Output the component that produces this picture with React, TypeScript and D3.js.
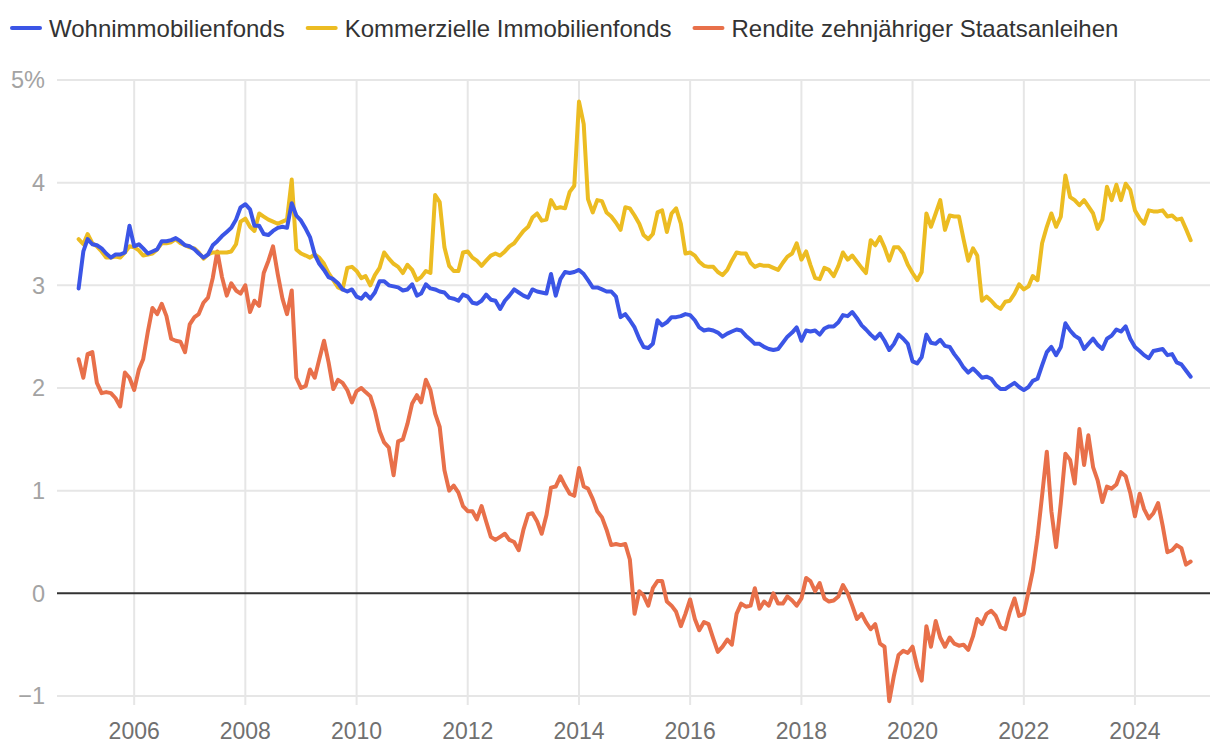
import * as d3 from 'd3';
import { useEffect, useRef } from 'react';

// monthly values, Jan 2005 .. Jan 2025 (percent)
const startMonth = new Date(2005, 0, 1);

const seriesNames = ['Wohnimmobilienfonds', 'Kommerzielle Immobilienfonds', 'Rendite zehnjähriger Staatsanleihen'];
const seriesColors = ['#3b55e6', '#ecbc22', '#e8704a'];

const wohnimmobilienfonds = [
    2.97, 3.33, 3.45, 3.40, 3.39, 3.36, 3.31, 3.27, 3.30, 3.30, 3.32, 3.58,
    3.38, 3.40, 3.36, 3.31, 3.33, 3.35, 3.43, 3.43, 3.44, 3.46, 3.43, 3.39,
    3.38, 3.35, 3.31, 3.27, 3.30, 3.39, 3.43, 3.48, 3.52, 3.56, 3.64, 3.76,
    3.79, 3.74, 3.58, 3.58, 3.50, 3.49, 3.53, 3.56, 3.57, 3.56, 3.80, 3.68,
    3.63, 3.55, 3.47, 3.30, 3.21, 3.15, 3.08, 3.06, 3.02, 2.96, 2.94, 2.96,
    2.89, 2.87, 2.92, 2.87, 2.93, 3.04, 3.04, 3.00, 2.99, 2.98, 2.95, 2.96,
    3.01, 2.90, 2.92, 3.01, 2.97, 2.96, 2.94, 2.93, 2.88, 2.87, 2.85, 2.91,
    2.89, 2.83, 2.82, 2.85, 2.91, 2.86, 2.85, 2.77, 2.85, 2.90, 2.96, 2.93,
    2.90, 2.88, 2.96, 2.94, 2.93, 2.92, 3.11, 2.90, 3.06, 3.13, 3.12, 3.13,
    3.15, 3.11, 3.05, 2.98, 2.98, 2.96, 2.94, 2.94, 2.89, 2.69, 2.72, 2.66,
    2.59, 2.48, 2.40, 2.39, 2.43, 2.66, 2.61, 2.64, 2.69, 2.69, 2.70, 2.72,
    2.71, 2.66, 2.59, 2.56, 2.57, 2.56, 2.54, 2.50, 2.53, 2.55, 2.57, 2.56,
    2.51, 2.47, 2.43, 2.43, 2.40, 2.38, 2.37, 2.38, 2.44, 2.50, 2.54, 2.59,
    2.46, 2.56, 2.55, 2.56, 2.52, 2.58, 2.60, 2.60, 2.64, 2.71, 2.70, 2.74,
    2.68, 2.61, 2.57, 2.52, 2.48, 2.53, 2.46, 2.37, 2.43, 2.52, 2.48, 2.43,
    2.26, 2.24, 2.30, 2.52, 2.44, 2.43, 2.47, 2.41, 2.40, 2.33, 2.27, 2.20,
    2.15, 2.19, 2.15, 2.10, 2.11, 2.09, 2.03, 1.99, 1.99, 2.02, 2.05, 2.01,
    1.98, 2.01, 2.07, 2.09, 2.22, 2.35, 2.40, 2.32, 2.40, 2.63, 2.56, 2.51,
    2.48, 2.38, 2.43, 2.48, 2.42, 2.38, 2.48, 2.51, 2.57, 2.55, 2.60, 2.48,
    2.40, 2.36, 2.32, 2.29, 2.36, 2.37, 2.38, 2.32, 2.33, 2.25, 2.23, 2.17,
    2.11
];

const kommerzielleImmobilienfonds = [
    3.45, 3.40, 3.50, 3.41, 3.38, 3.33, 3.27, 3.27, 3.28, 3.27, 3.32, 3.38,
    3.37, 3.34, 3.29, 3.30, 3.31, 3.35, 3.41, 3.41, 3.42, 3.45, 3.41, 3.39,
    3.37, 3.36, 3.32, 3.26, 3.30, 3.32, 3.32, 3.32, 3.32, 3.33, 3.40, 3.62,
    3.65, 3.57, 3.53, 3.70, 3.67, 3.64, 3.62, 3.60, 3.62, 3.64, 4.03, 3.35,
    3.31, 3.29, 3.27, 3.30, 3.27, 3.21, 3.12, 3.05, 2.98, 2.96, 3.17, 3.18,
    3.14, 3.07, 3.09, 3.00, 3.10, 3.17, 3.32, 3.26, 3.21, 3.18, 3.12, 3.20,
    3.15, 3.05, 3.08, 3.14, 3.12, 3.88, 3.81, 3.37, 3.19, 3.14, 3.14, 3.32,
    3.33, 3.27, 3.24, 3.19, 3.24, 3.29, 3.31, 3.29, 3.33, 3.38, 3.41, 3.47,
    3.53, 3.57, 3.66, 3.70, 3.63, 3.64, 3.83, 3.75, 3.76, 3.75, 3.91, 3.97,
    4.79, 4.57, 3.84, 3.71, 3.83, 3.82, 3.71, 3.67, 3.61, 3.54, 3.76, 3.75,
    3.68, 3.60, 3.49, 3.45, 3.50, 3.71, 3.73, 3.52, 3.70, 3.75, 3.60, 3.31,
    3.32, 3.29, 3.23, 3.19, 3.18, 3.18, 3.13, 3.10, 3.15, 3.24, 3.32, 3.31,
    3.31, 3.22, 3.18, 3.20, 3.19, 3.19, 3.17, 3.15, 3.22, 3.28, 3.31, 3.41,
    3.25, 3.33, 3.20, 3.07, 3.06, 3.17, 3.15, 3.09, 3.19, 3.32, 3.25, 3.29,
    3.23, 3.17, 3.12, 3.44, 3.39, 3.47, 3.37, 3.24, 3.37, 3.37, 3.31, 3.20,
    3.12, 3.05, 3.13, 3.70, 3.57, 3.70, 3.83, 3.54, 3.68, 3.67, 3.67, 3.45,
    3.24, 3.36, 3.29, 2.85, 2.89, 2.85, 2.80, 2.77, 2.84, 2.85, 2.92, 3.01,
    2.96, 2.99, 3.09, 3.05, 3.41, 3.57, 3.70, 3.57, 3.67, 4.07, 3.86, 3.83,
    3.78, 3.83, 3.77, 3.70, 3.55, 3.64, 3.96, 3.83, 3.98, 3.83, 3.99, 3.93,
    3.73, 3.65, 3.60, 3.73, 3.72, 3.72, 3.73, 3.67, 3.68, 3.64, 3.65, 3.55,
    3.44
];

const renditeStaatsanleihen = [
    2.28, 2.10, 2.33, 2.35, 2.05, 1.95, 1.96, 1.95, 1.90, 1.82, 2.15, 2.10,
    1.98, 2.18, 2.28, 2.55, 2.78, 2.72, 2.82, 2.70, 2.48, 2.46, 2.45, 2.35,
    2.62, 2.69, 2.72, 2.83, 2.88, 3.07, 3.33, 3.08, 2.90, 3.02, 2.95, 2.92,
    3.00, 2.74, 2.85, 2.80, 3.12, 3.24, 3.38, 3.11, 2.87, 2.72, 2.95, 2.10,
    2.00, 2.02, 2.18, 2.10, 2.28, 2.46, 2.25, 1.99, 2.08, 2.05, 1.98, 1.86,
    1.97, 2.00, 1.96, 1.92, 1.78, 1.58, 1.47, 1.42, 1.15, 1.48, 1.50, 1.65,
    1.85, 1.93, 1.86, 2.08, 1.98, 1.75, 1.62, 1.20, 1.00, 1.05, 0.98, 0.85,
    0.80, 0.80, 0.72, 0.85, 0.70, 0.55, 0.52, 0.55, 0.58, 0.52, 0.50, 0.42,
    0.62, 0.77, 0.78, 0.70, 0.58, 0.76, 1.03, 1.04, 1.14, 1.05, 0.97, 0.95,
    1.22, 1.04, 1.02, 0.92, 0.80, 0.74, 0.62, 0.47, 0.48, 0.47, 0.48, 0.33,
    -0.20, 0.02, -0.02, -0.12, 0.05, 0.12, 0.12, -0.08, -0.12, -0.18, -0.32, -0.20,
    -0.06, -0.25, -0.36, -0.28, -0.30, -0.44, -0.57, -0.52, -0.45, -0.50, -0.20, -0.10,
    -0.13, -0.12, 0.05, -0.15, -0.08, -0.12, 0.00, -0.10, -0.10, -0.03, -0.07, -0.12,
    -0.05, 0.15, 0.12, 0.02, 0.10, -0.05, -0.08, -0.07, -0.03, 0.08, 0.00, -0.12,
    -0.25, -0.20, -0.28, -0.35, -0.30, -0.49, -0.52, -1.05, -0.80, -0.60, -0.56, -0.58,
    -0.52, -0.72, -0.85, -0.32, -0.52, -0.27, -0.43, -0.52, -0.43, -0.49, -0.51, -0.50,
    -0.55, -0.42, -0.25, -0.30, -0.20, -0.17, -0.22, -0.33, -0.35, -0.18, -0.05, -0.22,
    -0.20, 0.02, 0.22, 0.55, 0.95, 1.38, 0.80, 0.45, 0.88, 1.36, 1.30, 1.07,
    1.60, 1.25, 1.54, 1.23, 1.10, 0.89, 1.04, 1.02, 1.06, 1.18, 1.14, 0.98,
    0.75, 0.97, 0.82, 0.73, 0.78, 0.88, 0.66, 0.40, 0.42, 0.47, 0.44, 0.28,
    0.31
];

const yearTicks = [2006, 2008, 2010, 2012, 2014, 2016, 2018, 2020, 2022, 2024];
const valueTicks = [-1, 0, 1, 2, 3, 4, 5];

const WIDTH = 1220;
const HEIGHT = 752;
const FONT = '"Liberation Sans", Arial, Helvetica, sans-serif';

export default function App() {
    const ref = useRef<SVGSVGElement>(null);

    useEffect(() => {
        const svg = d3.select(ref.current);
        svg.selectAll('*').remove();

        const margin = { top: 80, right: 10, bottom: 56, left: 57 };

        const months = wohnimmobilienfonds.map((_, i) => d3.timeMonth.offset(startMonth, i));

        const x = d3.scaleTime()
            .domain([new Date(2004, 7, 12), new Date(2025, 4, 8)])
            .range([margin.left, WIDTH - margin.right]);
        const y = d3.scaleLinear()
            .domain([-1, 5])
            .range([HEIGHT - margin.bottom, margin.top]);

        // grid
        const grid = svg.append('g');
        grid.selectAll('.vgrid').data(yearTicks).join('line')
            .attr('x1', (d: number) => x(new Date(d, 0, 1)))
            .attr('x2', (d: number) => x(new Date(d, 0, 1)))
            .attr('y1', y(5))
            .attr('y2', y(-1) + 9)
            .attr('stroke', '#e6e6e6')
            .attr('stroke-width', 2);
        grid.selectAll('.hgrid').data(valueTicks.filter(v => v !== 0)).join('line')
            .attr('x1', margin.left)
            .attr('x2', WIDTH - margin.right)
            .attr('y1', (d: number) => y(d))
            .attr('y2', (d: number) => y(d))
            .attr('stroke', '#e6e6e6')
            .attr('stroke-width', 2);

        // y labels
        svg.append('g').selectAll('text').data(valueTicks).join('text')
            .attr('x', margin.left - 12)
            .attr('y', (d: number) => y(d))
            .attr('dy', '0.36em')
            .attr('text-anchor', 'end')
            .style('font-family', FONT)
            .style('font-size', '23.5px')
            .attr('fill', '#a3a3a3')
            .text((d: number) => d === 5 ? '5%' : d3.format('d')(d).replace('-', '\u2212'));

        // x labels
        svg.append('g').selectAll('text').data(yearTicks).join('text')
            .attr('x', (d: number) => x(new Date(d, 0, 1)))
            .attr('y', HEIGHT - 21)
            .attr('dy', '0.36em')
            .attr('text-anchor', 'middle')
            .style('font-family', FONT)
            .style('font-size', '23px')
            .attr('fill', '#707070')
            .text((d: number) => String(d));

        // zero line
        svg.append('line')
            .attr('x1', margin.left)
            .attr('x2', WIDTH - margin.right)
            .attr('y1', y(0))
            .attr('y2', y(0))
            .attr('stroke', '#333')
            .attr('stroke-width', 2);

        const line = d3.line<number>()
            .x((_, i) => x(months[i]))
            .y(d => y(d));

        const series = [
            { values: renditeStaatsanleihen, color: seriesColors[2] },
            { values: kommerzielleImmobilienfonds, color: seriesColors[1] },
            { values: wohnimmobilienfonds, color: seriesColors[0] },
        ];
        svg.append('g').selectAll('path').data(series).join('path')
            .attr('d', (d: any) => line(d.values))
            .attr('fill', 'none')
            .attr('stroke', (d: any) => d.color)
            .attr('stroke-width', 4)
            .attr('stroke-linejoin', 'round')
            .attr('stroke-linecap', 'round');

        // legend
        const legend = svg.append('g');
        let lx = 10;
        seriesNames.forEach((name, i) => {
            legend.append('line')
                .attr('x1', lx + 2).attr('x2', lx + 30)
                .attr('y1', 28).attr('y2', 28)
                .attr('stroke', seriesColors[i])
                .attr('stroke-width', 4)
                .attr('stroke-linecap', 'round');
            const t = legend.append('text')
                .attr('x', lx + 39)
                .attr('y', 28)
                .attr('dy', '0.36em')
                .style('font-family', FONT)
                .style('font-size', '24px')
                .attr('fill', '#333')
                .text(name);
            const w = (t.node() as SVGTextElement).getComputedTextLength();
            lx += 39 + w + 21;
        });
    }, []);

    return (
        <svg ref={ref} width={WIDTH} height={HEIGHT}
            style={{ position: 'absolute', left: 0, top: 0, background: '#fff' }} />
    );
}
